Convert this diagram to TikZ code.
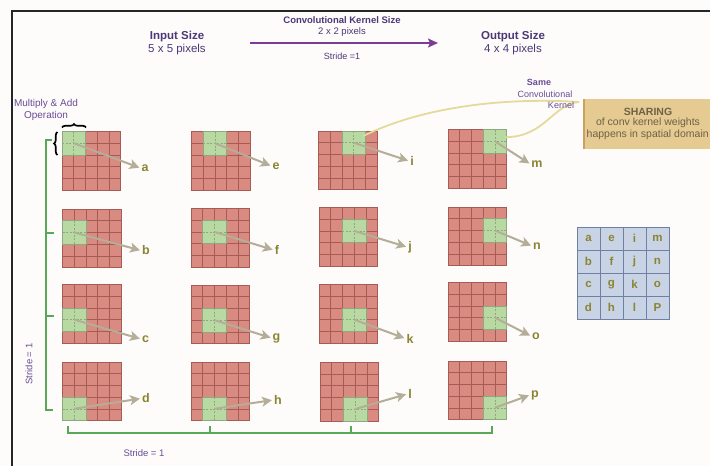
\documentclass[tikz,border=0pt]{standalone}
\usepackage{fontspec}
\setmainfont{Liberation Sans}
\usetikzlibrary{arrows.meta,decorations.pathreplacing,calc}

\definecolor{paper}{HTML}{FDFCFA}
\definecolor{cellred}{HTML}{D98A81}
\definecolor{cellline}{HTML}{A65B55}
\definecolor{kgreen}{HTML}{B9D9A3}
\definecolor{kline}{HTML}{8EA97F}
\definecolor{tagolive}{HTML}{8A8433}
\definecolor{ptrgray}{HTML}{B4AD98}
\definecolor{headink}{HTML}{4C3878}
\definecolor{noteink}{HTML}{6A4C96}
\definecolor{arrowpurple}{HTML}{7B3C98}
\definecolor{brgreen}{HTML}{58A858}
\definecolor{linkyellow}{HTML}{E4DA9C}
\definecolor{sharefill}{HTML}{E5CA92}
\definecolor{shareedge}{HTML}{C8A35E}
\definecolor{sharetext}{HTML}{6F6048}
\definecolor{tabfill}{HTML}{C8D3E6}
\definecolor{tabline}{HTML}{7080A2}

\begin{document}
\begin{tikzpicture}[x=1pt,y=-1pt,
  panel/.style={draw=cellline, fill=cellred, line width=0.6pt, minimum size=58.5pt,
    inner sep=0pt, outer sep=0pt},
  kpatch/.style={draw=kline, fill=kgreen, line width=0.5pt, minimum size=23.4pt,
    inner sep=0pt, outer sep=0pt},
  tag/.style={text=tagolive, font=\fontsize{12.5}{14}\selectfont\bfseries, inner sep=1pt},
  pointer/.style={draw=ptrgray, line width=2pt,
    -{Stealth[length=10pt,width=10pt,inset=2.5pt]}, shorten >=1pt},
  headline/.style={text=headink, font=\fontsize{11.5}{13}\selectfont, align=center},
  note/.style={text=noteink, font=\fontsize{9.5}{11}\selectfont, inner sep=1pt},
  bracket/.style={draw=brgreen, line width=1.6pt},
  curly/.style={decorate, decoration={brace, amplitude=3.5pt}, line width=1.7pt, black},
  link/.style={draw=linkyellow, line width=1.8pt},
  tabcell/.style={draw=tabline, fill=tabfill, line width=0.8pt, minimum size=23pt,
    inner sep=0pt, text=tagolive, font=\fontsize{11.5}{13}\selectfont\bfseries},
  sharetxt/.style={text=sharetext, font=\fontsize{10.5}{12}\selectfont, inner sep=0pt}
]
\clip (0,0) rectangle (710,466);
\fill[paper] (0,0) rectangle (710,466);
\useasboundingbox (0,0) rectangle (710,466);

% frame lines
\draw[line width=1.2pt, black!85] (12,470) -- (12,11) -- (714,11);

% header
\node[headline] (insize) at (177,43.5) {\textbf{Input Size}\\5 x 5 pixels};
\node[headline] (outsize) at (513,43.5) {\textbf{Output Size}\\4 x 4 pixels};
\node[text=headink, font=\fontsize{9.5}{11}\selectfont\bfseries] (ksize) at (342,20) {Convolutional Kernel Size};
\node[text=headink, font=\fontsize{9.5}{11}\selectfont] (kdim) at (342,32) {2 x 2 pixels};
\node[text=headink, font=\fontsize{9}{10}\selectfont] (kstride) at (342,56) {Stride =1};
\coordinate (kfrom) at (250,43);
\coordinate (kto) at (438,43);
\draw[arrowpurple, line width=1.6pt, -{Stealth[length=10pt,width=9pt,inset=2pt]}] (kfrom) -- (kto);

% sliding window panels: name / left / top / kernel row / kernel col / label x / label y
\foreach \nm/\gx/\gy/\kr/\kc/\lx/\ly in {
  a/62/131.5/0/0/145/168, e/191.5/131.5/0/1/276/166, i/318.5/131/0/2/412/161, m/448/129.5/0/3/537/164,
  b/62.5/209/1/0/146/250.5, f/191/208.5/1/1/277/250, j/319/207.5/1/2/410/247, n/448/207/1/3/537/246,
  c/62.5/284.5/2/0/145.5/339, g/191/285/2/1/276.5/338, k/319/284.5/2/2/410/338.5, o/448/282.5/2/3/536/336,
  d/62.5/362/3/0/146/398.5, h/191/362/3/1/278/400, l/320/362.3/3/2/410/394, p/448/361/3/3/535/395}{
  \node[panel] (g\nm) at ({\gx+29.25},{\gy+29.25}) {};
  \foreach \t in {1,...,4}{
    \draw[cellline, line width=0.6pt] ($(g\nm.north west)+(\t*11.7,0)$) -- ($(g\nm.south west)+(\t*11.7,0)$);
    \draw[cellline, line width=0.6pt] ($(g\nm.north west)+(0,\t*11.7)$) -- ($(g\nm.north east)+(0,\t*11.7)$);
  }
  \node[kpatch] (k\nm) at ({\gx+(\kc+1)*11.7},{\gy+(\kr+1)*11.7}) {};
  \draw[kline, line width=0.5pt, dash pattern=on 2pt off 1.5pt] (k\nm.north) -- (k\nm.south);
  \draw[kline, line width=0.5pt, dash pattern=on 2pt off 1.5pt] (k\nm.west) -- (k\nm.east);
  \node[tag] (\nm) at (\lx,\ly) {\nm};
  \draw[pointer] (k\nm.center) -- (\nm.west);
}

% multiply & add braces
\draw[curly] (62,127.5) -- (86,127.5);
\draw[curly] (57.5,155) -- (57.5,132);
\node[note, align=center, font=\fontsize{10}{12}\selectfont] (mult) at (46,110) {Multiply \& Add\\Operation};

% stride brackets
\draw[bracket] (52,140) -- (46,140) -- (46,410) -- (53,410);
\draw[bracket] (46,233) -- (54,233);
\draw[bracket] (46,316) -- (54,316);
\draw[bracket] (68,426) -- (68,433) -- (492,433) -- (492,426);
\draw[bracket] (210,433) -- (210,426);
\draw[bracket] (351,433) -- (351,426);
\node[note, rotate=90] (stridev) at (29,364) {Stride = 1};
\node[note] (strideh) at (144,453) {Stride = 1};

% weight sharing call-out
\node[fill=sharefill, minimum width=132pt, minimum height=50pt, inner sep=0pt, anchor=north west] (share) at (584,99) {};
\draw[shareedge, line width=2.5pt] (share.north west) -- (share.south west);
\node[sharetxt, font=\fontsize{10.5}{12}\selectfont\bfseries] (sh1) at (648,112) {SHARING};
\node[sharetxt] (sh2) at (648,123) {of conv kernel weights};
\node[sharetxt, anchor=west] (sh3) at (586.5,134.5) {happens in spatial domain};
\coordinate (sharein) at (579,102);
\draw[link] ($(ki.north east)+(-2,5)$) .. controls (420,108) and (500,97) .. (sharein);
\draw[link] ($(km.east)+(-1,-4)$) .. controls (545,137) and (553,104) .. (sharein);

\node[note, font=\fontsize{9}{10}\selectfont\bfseries] (same1) at (539,82) {Same};
\node[note, font=\fontsize{9}{10}\selectfont] (same2) at (545,94) {Convolutional};
\node[note, font=\fontsize{9}{10}\selectfont] (same3) at (561,105) {Kernel};

% output feature map
\foreach \nm [count=\q from 0] in {a,e,i,m,b,f,j,n,c,g,k,o,d,h,l,P}{
  \pgfmathtruncatemacro{\rr}{\q/4}
  \pgfmathtruncatemacro{\cc}{mod(\q,4)}
  \node[tabcell] (t-\nm) at ({577+11.5+23*\cc},{227+11.5+23*\rr}) {\nm};
}
\end{tikzpicture}
\end{document}
